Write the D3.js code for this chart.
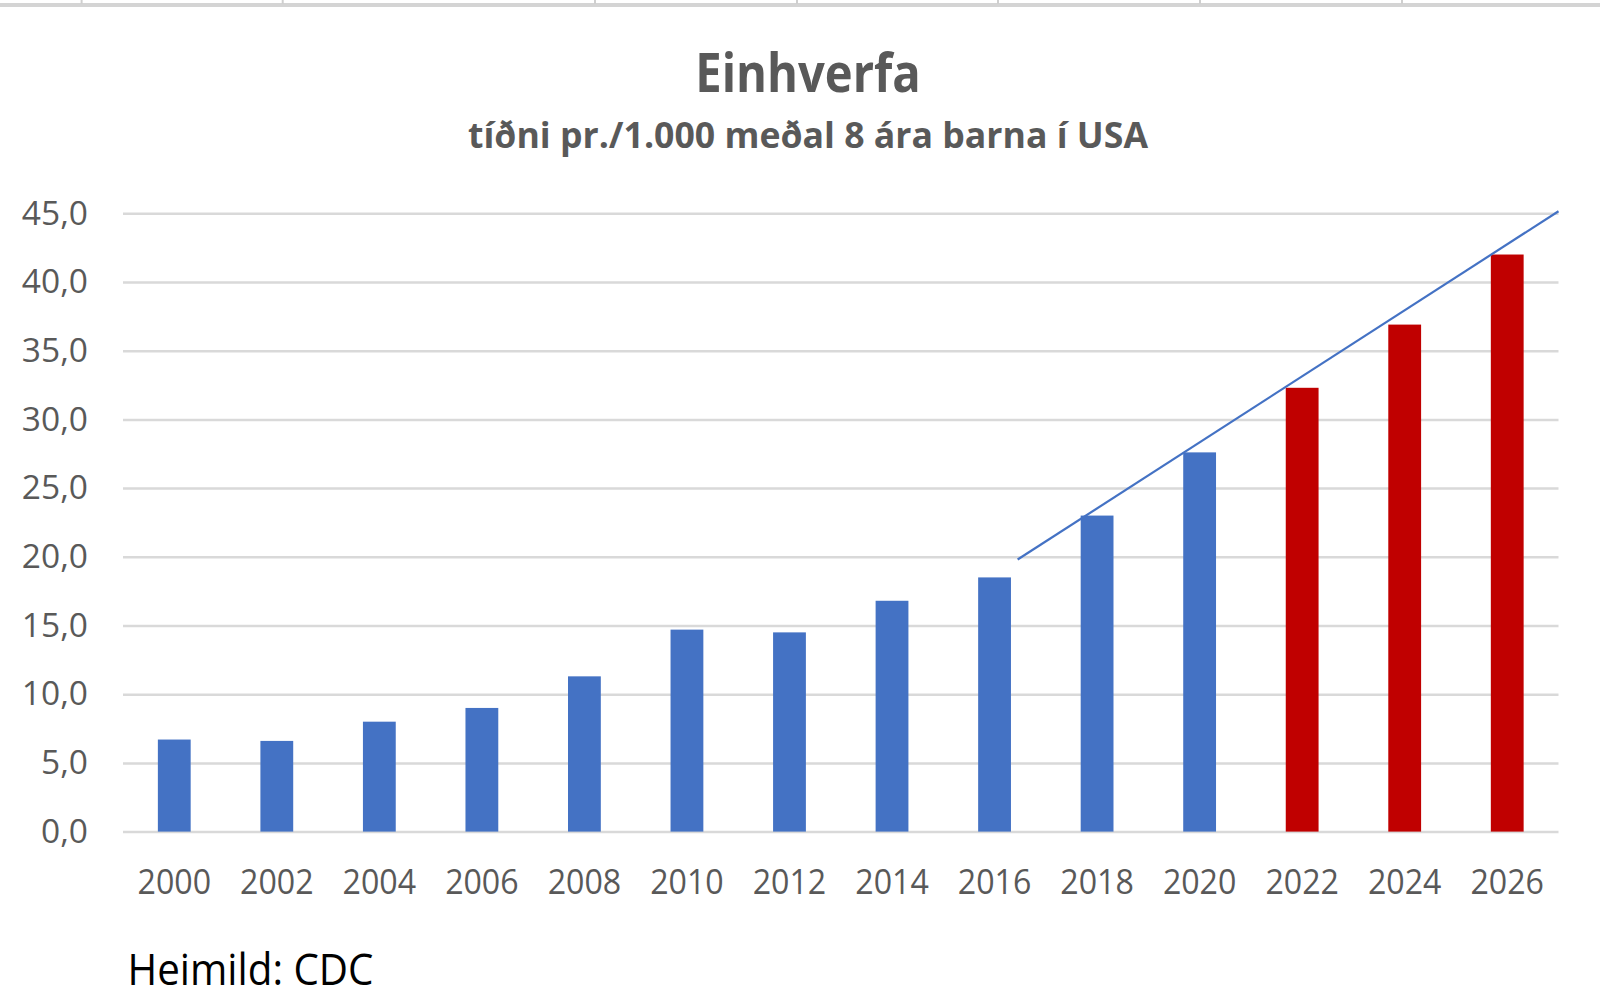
<!DOCTYPE html>
<html>
<head>
<meta charset="utf-8">
<script src="https://cdn.jsdelivr.net/npm/d3@7"></script>
<style>
  html, body { margin: 0; padding: 0; background: #fff; }
  svg { display: block; }
</style>
</head>
<body>
<svg id="chart" width="1600" height="1001"></svg>
<script>
// ---- data ----
const years = [2000, 2002, 2004, 2006, 2008, 2010, 2012, 2014, 2016, 2018, 2020, 2022, 2024, 2026];
const values = [6.7, 6.6, 8.0, 9.0, 11.3, 14.7, 14.5, 16.8, 18.5, 23.0, 27.6, 32.3, 36.9, 42.0];
const projected = [false, false, false, false, false, false, false, false, false, false, false, true, true, true];
const yTicks = [0, 5, 10, 15, 20, 25, 30, 35, 40, 45];
const trendYears = [2016.45, 2027.0];
const trendValues = [19.8, 45.15];
const titleText = "Einhverfa";
const subtitleText = "tíðni pr./1.000 meðal 8 ára barna í USA";
const sourceText = "Heimild: CDC";
const headerTickX = [81.6, 282.7, 595, 797, 998, 1200, 1402];

// ---- layout ----
const W = 1600, H = 1001;
const plot = { left: 123, right: 1558.5, top: 213.3, bottom: 831.6 };
const colors = { actual: "#4472C4", projected: "#C00000", grid: "#D9D9D9", text: "#595959", trend: "#4472C4" };

const svg = d3.select("#chart");

// spreadsheet header remnant at the top
svg.append("rect").attr("x", 0).attr("y", 3).attr("width", W).attr("height", 4).attr("fill", "#D4D4D4");
svg.selectAll("line.hdr").data(headerTickX).enter().append("line")
  .attr("class", "hdr").attr("x1", d => d).attr("x2", d => d).attr("y1", 0).attr("y2", 4)
  .attr("stroke", "#CFCFCF").attr("stroke-width", 2);

// scales
const x = d3.scaleBand().domain(years).range([plot.left, plot.right]).paddingInner(0.68).paddingOuter(0.34);
const y = d3.scaleLinear().domain([0, 45]).range([plot.bottom, plot.top]);
const xYear = d3.scaleLinear().domain([years[0] - 1, years[years.length - 1] + 1]).range([plot.left, plot.right]);

const locale = d3.formatLocale({ decimal: ",", thousands: ".", grouping: [3], currency: ["", ""] });
const fmt = locale.format(".1f");

// y axis with gridlines
const yAxis = svg.append("g").attr("transform", `translate(${plot.left},0)`)
  .call(d3.axisLeft(y).tickValues(yTicks).tickFormat(fmt).tickSizeInner(-(plot.right - plot.left)).tickSizeOuter(0).tickPadding(35));
yAxis.select(".domain").remove();
yAxis.selectAll(".tick line").attr("stroke", colors.grid).attr("stroke-width", 2.5);
yAxis.selectAll(".tick text")
  .attr("fill", colors.text).attr("font-family", "'Open Sans', sans-serif").attr("font-size", 33.5);

// bars
svg.selectAll("rect.bar").data(years).enter().append("rect")
  .attr("class", "bar")
  .attr("x", d => x(d))
  .attr("width", x.bandwidth())
  .attr("y", (d, i) => y(values[i]))
  .attr("height", (d, i) => y(0) - y(values[i]))
  .attr("fill", (d, i) => projected[i] ? colors.projected : colors.actual);

// trend line
const trendData = trendYears.map((yr, i) => [yr, trendValues[i]]);
svg.append("path")
  .datum(trendData)
  .attr("d", d3.line().x(d => xYear(d[0])).y(d => y(d[1])))
  .attr("fill", "none").attr("stroke", colors.trend).attr("stroke-width", 2.2);

// x axis
const xAxis = svg.append("g").attr("transform", `translate(0,${plot.bottom})`)
  .call(d3.axisBottom(x).tickSize(0).tickPadding(0));
xAxis.select(".domain").remove();
xAxis.selectAll(".tick text")
  .attr("y", 62.4).attr("dy", 0)
  .attr("fill", colors.text).attr("font-family", "'Open Sans', sans-serif").attr("font-size", 34)
  .attr("textLength", 73.5).attr("lengthAdjust", "spacingAndGlyphs");

// titles
svg.append("text").text(titleText)
  .attr("x", 808).attr("y", 91.8).attr("text-anchor", "middle")
  .attr("font-family", "'Open Sans', sans-serif").attr("font-weight", "bold").attr("font-size", 53)
  .attr("fill", colors.text).attr("textLength", 225.5).attr("lengthAdjust", "spacingAndGlyphs");
svg.append("text").text(subtitleText)
  .attr("x", 808).attr("y", 148).attr("text-anchor", "middle")
  .attr("font-family", "'Open Sans', sans-serif").attr("font-weight", "bold").attr("font-size", 35)
  .attr("fill", colors.text).attr("textLength", 680).attr("lengthAdjust", "spacingAndGlyphs");

// source
svg.append("text").text(sourceText)
  .attr("x", 127.5).attr("y", 984.7)
  .attr("font-family", "'Open Sans', sans-serif").attr("font-size", 44)
  .attr("fill", "#000").attr("textLength", 246).attr("lengthAdjust", "spacingAndGlyphs");
</script>
</body>
</html>
